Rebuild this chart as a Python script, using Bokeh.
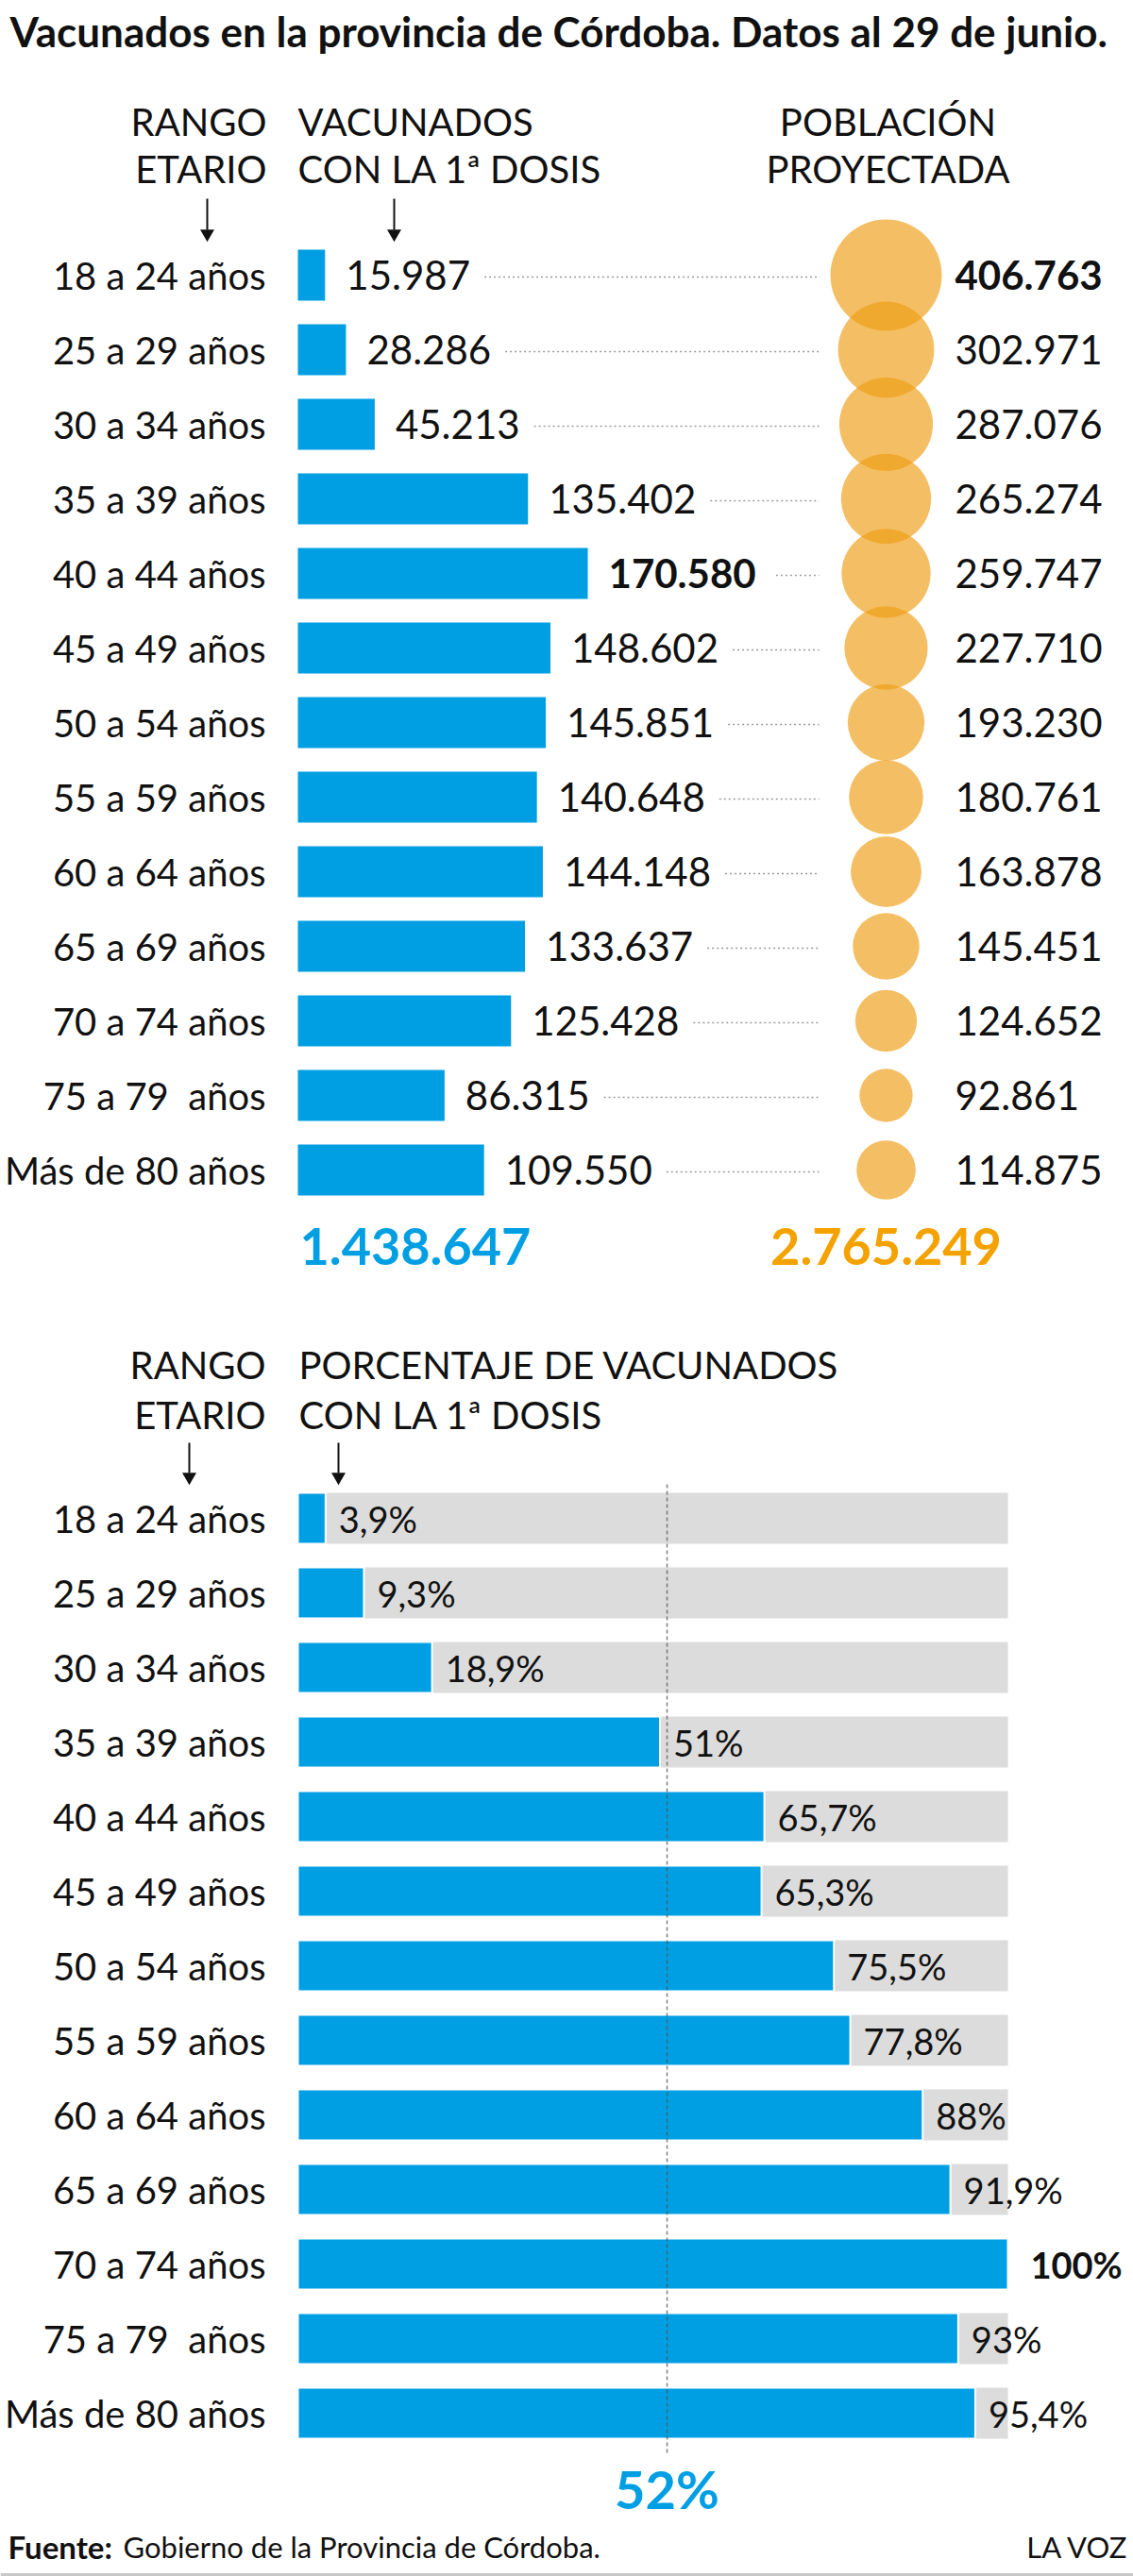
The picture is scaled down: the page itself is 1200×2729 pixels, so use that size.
import math
from bokeh.plotting import figure
from bokeh.models import Range1d, ColumnDataSource
from bokeh.core.properties import value
from bokeh.embed import file_html
from bokeh.resources import INLINE

# ---------------- data ----------------
categories = ["18 a 24 años", "25 a 29 años", "30 a 34 años", "35 a 39 años",
              "40 a 44 años", "45 a 49 años", "50 a 54 años", "55 a 59 años",
              "60 a 64 años", "65 a 69 años", "70 a 74 años", "75 a 79\u00a0 años",
              "Más de 80 años"]
vacunados = [15987, 28286, 45213, 135402, 170580, 148602, 145851, 140648,
             144148, 133637, 125428, 86315, 109550]
poblacion = [406763, 302971, 287076, 265274, 259747, 227710, 193230, 180761,
             163878, 145451, 124652, 92861, 114875]
porcentaje = [3.9, 9.3, 18.9, 51, 65.7, 65.3, 75.5, 77.8, 88, 91.9, 100, 93, 95.4]
total_vacunados = 1438647
total_poblacion = 2765249
porcentaje_total = 52

title = "Vacunados en la provincia de Córdoba. Datos al 29 de junio."
fuente = "Gobierno de la Provincia de Córdoba."

# ---------------- style ----------------
FONT = "Lato"
BLUE = "#009FE3"
ORANGE = "#EE9E14"
ORANGE_TXT = "#F4A200"
GRAY = "#DCDCDC"
INK = "#111111"
W, H = 1200, 2729
BAR_X0 = 315            # pixel where bars start
K_VAC = 0.0018          # px per vaccinated person
K_PCT = 7.52            # px per percentage point
ROW0_TOP, ROW0_BOT, STEP = 291, 1608, 79
BAR_H = 54
CIRCLE_X = 938
R_MAX = 59


def fmt_int(v):
    return f"{v:,}".replace(",", ".")


def fmt_pct(v):
    s = f"{v:g}".replace(".", ",")
    return s + "%"


p = figure(width=W, height=H, x_range=Range1d(0, W), y_range=Range1d(H, 0),
           output_backend="svg", toolbar_location=None, min_border=0,
           x_axis_location=None, y_axis_location=None,
           outline_line_color=None, background_fill_color="white",
           border_fill_color="white")
p.grid.visible = False
p.extra_x_ranges = {
    "vac": Range1d(-BAR_X0 / K_VAC, (W - BAR_X0) / K_VAC),
    "pct": Range1d(-BAR_X0 / K_PCT, (W - BAR_X0) / K_PCT),
}


def txt(x, y, s, size, align="left", bold=False, color=INK, rng="default",
        x_offset=0, baseline="middle"):
    p.text(x=x, y=y, text=s, text_font=value(FONT), text_font_size=f"{size}px",
           text_font_style="bold" if bold else "normal", text_align=align,
           text_baseline=baseline, text_color=color, x_offset=x_offset,
           x_range_name=rng)


def arrow(x, y0, y1):
    p.segment(x0=[x], y0=[y0], x1=[x], y1=[y1 - 10], line_color=INK, line_width=2)
    p.scatter(x=[x], y=[y1 - 6], marker="inverted_triangle", size=15,
              fill_color=INK, line_color=None)


n = len(categories)
rows_top = [ROW0_TOP + STEP * i for i in range(n)]
rows_bot = [ROW0_BOT + STEP * i for i in range(n)]

# ---------------- title ----------------
txt([10], [32], [title], 44, bold=True)

# ---------------- top section ----------------
txt([282, 282], [128, 178], ["RANGO", "ETARIO"], 40, align="right")
txt([315, 315], [128, 178], ["VACUNADOS", "CON LA 1ª DOSIS"], 40)
txt([940, 940], [128, 178], ["POBLACIÓN", "PROYECTADA"], 40, align="center")
arrow(219, 210, 253)
arrow(417, 210, 253)

# leaders (dotted) from after the value label to the circle column
VAL_SIZE = 42
vmax = max(vacunados)
lx0, lx1, ly = [], [], []
for v, y in zip(vacunados, rows_top):
    s = fmt_int(v)
    w = VAL_SIZE * (sum(0.58 for c in s if c.isdigit()) + 0.26 * s.count("."))
    if v == vmax:
        w *= 1.04
    lx0.append(BAR_X0 + v * K_VAC + 22 + w + 14)
    lx1.append(867)
    ly.append(y + 2)
p.segment(x0=lx0, y0=ly, x1=lx1, y1=ly, line_color="#9A9A9A", line_width=1.6,
          line_dash="2 3")

# bars
p.hbar(y=rows_top, left=0, right=vacunados, height=BAR_H, x_range_name="vac",
       fill_color=BLUE, line_color=None)

# circles (area proportional to population)
pmax = max(poblacion)
radii = [R_MAX * math.sqrt(v / pmax) for v in poblacion]
p.circle(x=[CIRCLE_X] * n, y=rows_top, radius=radii, radius_units="screen",
         fill_color=ORANGE, fill_alpha=0.66, line_color=None)

# labels
txt([281] * n, rows_top, categories, 40, align="right")
src_v = ColumnDataSource(dict(
    x=vacunados, y=rows_top, t=[fmt_int(v) for v in vacunados],
    st=["bold" if v == vmax else "normal" for v in vacunados]))
p.text(x="x", y="y", text="t", source=src_v, x_range_name="vac", x_offset=22,
       text_font=value(FONT), text_font_size=f"{VAL_SIZE}px",
       text_font_style="st", text_align="left", text_baseline="middle",
       text_color=INK)
src_p = ColumnDataSource(dict(
    x=[1011] * n, y=rows_top, t=[fmt_int(v) for v in poblacion],
    st=["bold" if v == pmax else "normal" for v in poblacion]))
p.text(x="x", y="y", text="t", source=src_p,
       text_font=value(FONT), text_font_size=f"{VAL_SIZE}px",
       text_font_style="st", text_align="left", text_baseline="middle",
       text_color=INK)

# totals
txt([0], [1320], [fmt_int(total_vacunados)], 54, bold=True, color=BLUE,
    rng="vac", x_offset=2)
txt([CIRCLE_X], [1320], [fmt_int(total_poblacion)], 54, bold=True,
    color=ORANGE_TXT, align="center")

# ---------------- bottom section ----------------
txt([281, 281], [1445, 1498], ["RANGO", "ETARIO"], 40, align="right")
txt([316, 316], [1445, 1498], ["PORCENTAJE DE VACUNADOS", "CON LA 1ª DOSIS"], 40)
arrow(200, 1528, 1570)
arrow(358, 1528, 1570)

p.hbar(y=rows_bot, left=0, right=[100] * n, height=BAR_H, x_range_name="pct",
       fill_color=GRAY, line_color=None)
p.hbar(y=rows_bot, left=0, right=porcentaje, height=BAR_H, x_range_name="pct",
       fill_color=BLUE, line_color="white", line_width=2)

# average line
p.segment(x0=[porcentaje_total], y0=[1572], x1=[porcentaje_total], y1=[2600],
          x_range_name="pct", line_color="#555555", line_alpha=0.75,
          line_width=1.5, line_dash="4 3")

txt([281] * n, rows_bot, categories, 40, align="right")
qmax = max(porcentaje)
src_q = ColumnDataSource(dict(
    x=porcentaje, y=rows_bot, t=[fmt_pct(v) for v in porcentaje],
    st=["bold" if v == qmax else "normal" for v in porcentaje],
    off=[24 if v == qmax else 14 for v in porcentaje]))
p.text(x="x", y="y", text="t", source=src_q, x_range_name="pct", x_offset="off",
       text_font=value(FONT), text_font_size="38px", text_font_style="st",
       text_align="left", text_baseline="middle", text_color=INK)

txt([porcentaje_total], [2636], [fmt_pct(porcentaje_total)], 56, bold=True,
    color=BLUE, rng="pct", align="center")

# ---------------- footer ----------------
txt([8], [2697], ["Fuente:"], 33, bold=True)
txt([130], [2697], [fuente], 31)
txt([1195], [2697], ["LA VOZ"], 31, align="right")
p.segment(x0=[0], y0=[2727], x1=[W], y1=[2727], line_color="#C8C8C8", line_width=3)

open("out.html", "w").write(file_html(p, INLINE))
